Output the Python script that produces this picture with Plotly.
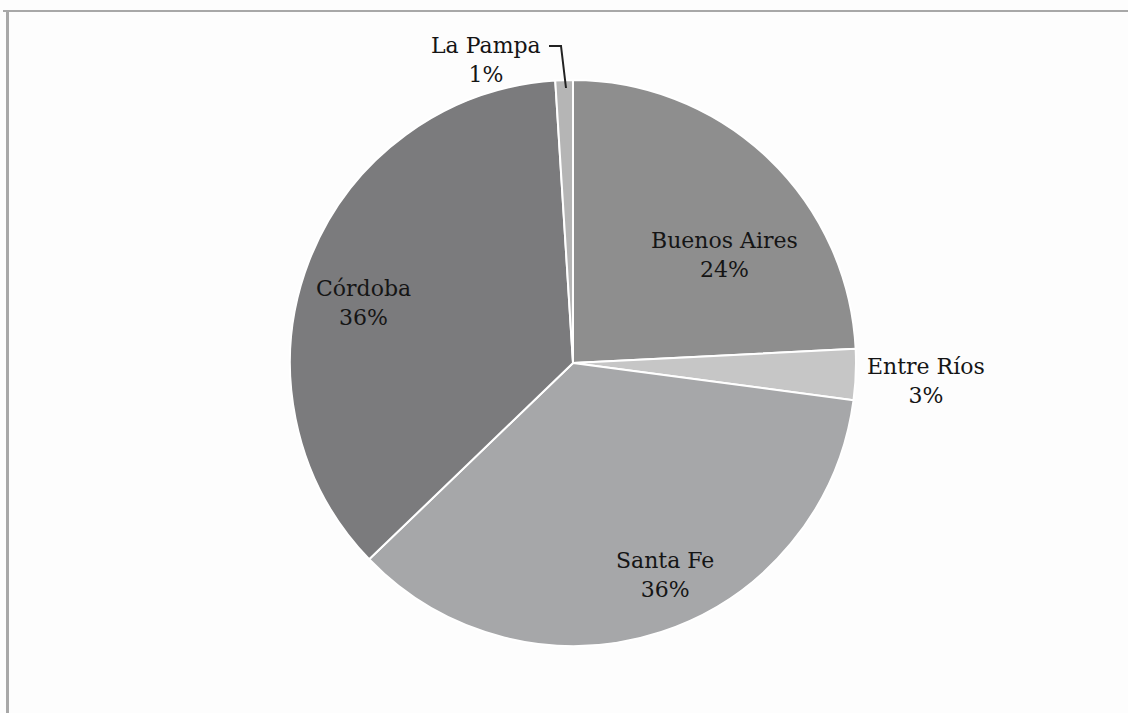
import plotly.graph_objects as go

provinces = ["Buenos Aires", "Entre Ríos", "Santa Fe", "Córdoba", "La Pampa"]
shares = [24.2, 2.9, 35.7, 36.2, 1.0]
slice_colors = ["#8e8e8e", "#c6c6c6", "#a6a7a9", "#7b7b7d", "#b5b5b5"]
# label anchor positions (pixels from top-left) for each province
label_x = [724, 926, 665, 363, 486]
label_y = [255, 381, 575, 303, 60]

W, H = 1128, 713
total = sum(shares)

fig = go.Figure()
fig.add_trace(go.Pie(
    labels=provinces,
    values=shares,
    sort=False,
    direction="clockwise",
    rotation=0,
    marker=dict(colors=slice_colors, line=dict(color="white", width=2)),
    textinfo="none",
    hoverinfo="label+percent",
    showlegend=False,
    domain=dict(x=[288 / W, 858 / W], y=[(H - 646) / H, (H - 80) / H]),
))

for name, v, lx, ly in zip(provinces, shares, label_x, label_y):
    fig.add_annotation(
        x=lx / W, y=1 - ly / H, xref="paper", yref="paper",
        text=f"{name}<br>{round(v / total * 100)}%",
        showarrow=False, xanchor="center", yanchor="middle",
        font=dict(family="DejaVu Serif", size=22, color="#151515"),
    )

# leader line for La Pampa
fig.add_shape(type="path", xref="paper", yref="paper",
              path=f"M {549 / W} {1 - 46 / H} L {561 / W} {1 - 46 / H} L {566 / W} {1 - 88 / H}",
              line=dict(color="#222222", width=2))

# frame lines (top and left)
fig.add_shape(type="line", xref="paper", yref="paper",
              x0=3 / W, x1=1, y0=1 - 11 / H, y1=1 - 11 / H,
              line=dict(color="#a8a8a8", width=2))
fig.add_shape(type="line", xref="paper", yref="paper",
              x0=7.5 / W, x1=7.5 / W, y0=0, y1=1 - 11 / H,
              line=dict(color="#a8a8a8", width=3))

fig.update_layout(
    width=W, height=H,
    margin=dict(l=0, r=0, t=0, b=0),
    paper_bgcolor="#fdfdfd",
    plot_bgcolor="#fdfdfd",
)

fig.write_html("out.html", config={"displayModeBar": False},
               post_script="document.body.style.margin='0';")
